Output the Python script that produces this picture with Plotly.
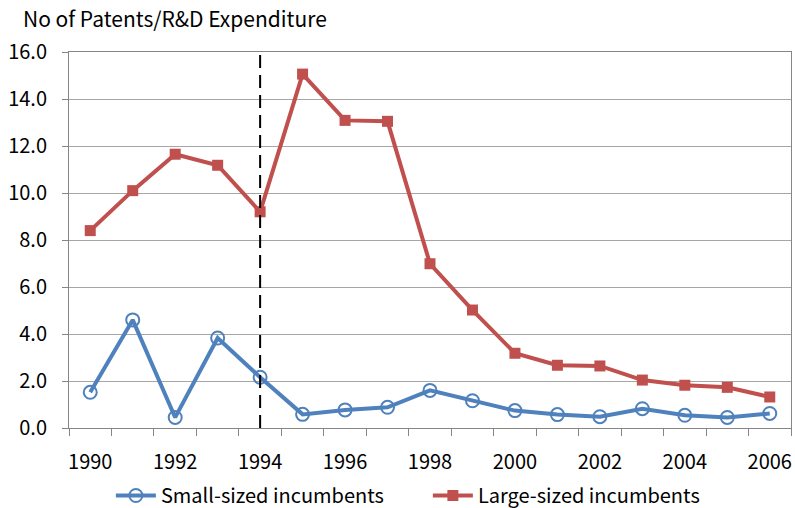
import plotly.graph_objects as go

years = list(range(1990, 2007))
small_sized = [1.52, 4.6, 0.45, 3.83, 2.16, 0.58, 0.77, 0.88, 1.6, 1.16, 0.74, 0.57, 0.48, 0.82, 0.54, 0.45, 0.62]
large_sized = [8.4, 10.1, 11.65, 11.18, 9.2, 15.06, 13.09, 13.05, 6.99, 5.02, 3.18, 2.67, 2.64, 2.04, 1.82, 1.73, 1.32]
x_ticks = [1990, 1992, 1994, 1996, 1998, 2000, 2002, 2004, 2006]
y_ticks = [0, 2, 4, 6, 8, 10, 12, 14, 16]
break_year = 1994

FONT = "Noto Sans CJK KR"
FS = 20
BLUE = "#4F81BD"
RED = "#C0504D"
GRID = "#A6A6A6"
AXIS = "#868686"

fig = go.Figure()
fig.add_trace(go.Scatter(
    x=years, y=small_sized, mode="lines+markers", name="Small-sized incumbents",
    line=dict(color=BLUE, width=4),
    marker=dict(symbol="circle-open", size=13, color=BLUE, line=dict(width=2)),
))
fig.add_trace(go.Scatter(
    x=years, y=large_sized, mode="lines+markers", name="Large-sized incumbents",
    line=dict(color=RED, width=4),
    marker=dict(symbol="square", size=11, color=RED),
))
fig.add_shape(type="line", x0=break_year, x1=break_year, y0=0, y1=15.9,
              xref="x", yref="y", line=dict(color="black", width=2, dash="13px,7px"))

fig.add_annotation(text="No of Patents/R&D Expenditure", xref="paper", yref="paper",
                   x=-0.066, y=1.0, yshift=34, xanchor="left", yanchor="middle",
                   showarrow=False, font=dict(family=FONT, size=21, color="#000"))

fig.update_layout(
    width=795, height=508,
    margin=dict(l=69, r=4, t=52, b=80),
    paper_bgcolor="white", plot_bgcolor="white",
    font=dict(family=FONT, size=FS, color="#000"),
    showlegend=True,
    legend=dict(orientation="h", x=0.058, xanchor="left", xref="paper",
                y=(508 - 476) / 508, yanchor="top", yref="container",
                font=dict(family=FONT, size=FS, color="#000"), itemwidth=40,
                entrywidth=262, entrywidthmode="pixels",
                bgcolor="rgba(0,0,0,0)"),
)
fig.update_xaxes(
    range=[1989.5, 2006.5], tickmode="array", tickvals=x_ticks,
    ticktext=[str(v) for v in x_ticks], automargin=False,
    ticks="outside", ticklen=16, tickcolor="rgba(0,0,0,0)",
    showgrid=False, showline=True, linecolor=AXIS, linewidth=1, mirror=True,
    minor=dict(tickmode="linear", tick0=1989.5, dtick=1, ticks="outside",
               ticklen=7, tickcolor=AXIS, showgrid=False),
    zeroline=False,
)
fig.update_yaxes(
    range=[0, 16], tickmode="array", tickvals=y_ticks,
    ticktext=[f"{v:.1f}" for v in y_ticks], automargin=False,
    ticks="outside", ticklen=6, tickcolor=AXIS,
    showgrid=True, gridcolor=GRID, gridwidth=1,
    showline=True, linecolor=AXIS, linewidth=1, mirror=True,
    zeroline=False, ticklabelstandoff=11,
)

fig.write_html("out.html", config={"displayModeBar": False},
               post_script="document.body.style.margin='0';document.body.style.overflow='hidden';")
